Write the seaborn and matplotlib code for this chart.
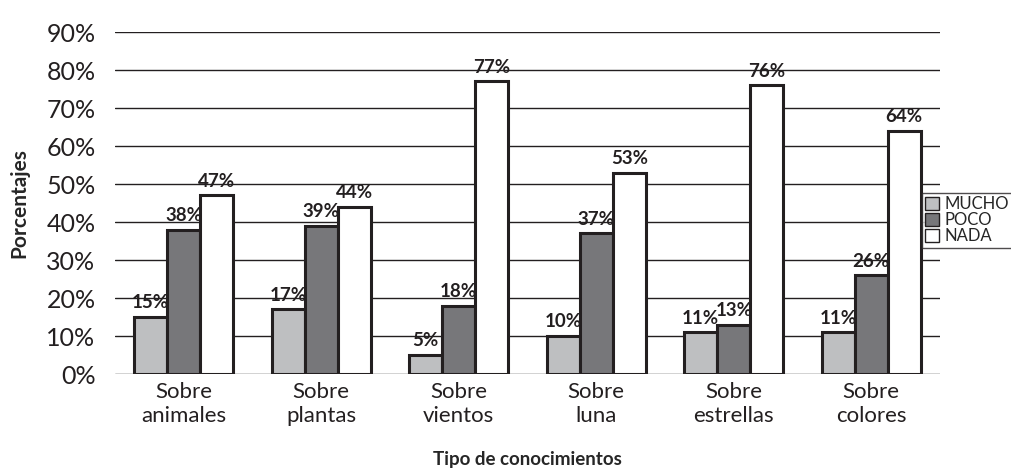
import matplotlib
matplotlib.use("Agg")
import matplotlib.pyplot as plt
import matplotlib.ticker as tkr
import pandas as pd
import seaborn as sns

categories = ["Sobre\nanimales", "Sobre\nplantas", "Sobre\nvientos", "Sobre\nluna", "Sobre\nestrellas", "Sobre\ncolores"]
series = ["MUCHO", "POCO", "NADA"]
mucho = [15, 17, 5, 10, 11, 11]
poco = [38, 39, 18, 37, 13, 26]
nada = [47, 44, 77, 53, 76, 64]
colors = ["#bebfc1", "#76777a", "#ffffff"]

df = pd.DataFrame({
    "Tipo": categories * 3,
    "Nivel": [s for s in series for _ in categories],
    "Valor": mucho + poco + nada,
})

sns.set_style("white")
plt.rcParams['font.family'] = ['Lato', 'DejaVu Sans']

fig = plt.figure(figsize=(10.12, 4.73), dpi=100)
ax = fig.add_axes([115 / 1012, 1 - 374 / 473, 825 / 1012, 342 / 473])

sns.barplot(data=df, x="Tipo", y="Valor", hue="Nivel", palette=colors, width=0.72,
            edgecolor="#231f20", linewidth=2.2, ax=ax, legend=True, zorder=3)

ax.set_ylim(0, 90)
ax.set_yticks(range(0, 91, 10))
ax.yaxis.set_major_formatter(tkr.FuncFormatter(lambda y, p: "{:.0f}%".format(y)))
ax.yaxis.grid(True, color="#231f20", linewidth=1.0, zorder=0)
ax.set_axisbelow(True)
for s in ax.spines.values():
    s.set_visible(False)
ax.tick_params(axis="y", labelsize=18, length=0, pad=14, colors="#231f20")
ax.tick_params(axis="x", labelsize=16, length=0, pad=6, colors="#231f20")

for c in ax.containers:
    ax.bar_label(c, labels=["{:.0f}%".format(v) for v in c.datavalues], padding=4,
                 fontsize=13.5, fontweight="bold", color="#231f20")

ax.set_xlabel("Tipo de conocimientos", fontsize=13.5, fontweight="bold", labelpad=18)
ax.set_ylabel("Porcentajes", fontsize=15, fontweight="bold", labelpad=12)

leg = ax.legend(loc="upper left", bbox_to_anchor=(922 / 1012, 1 - 193 / 473),
                bbox_transform=fig.transFigure, frameon=True, fontsize=12,
                handlelength=0.85, handleheight=0.85, handletextpad=0.3,
                borderpad=0.2, labelspacing=0.0, fancybox=False, borderaxespad=0)
leg.get_frame().set_edgecolor("#231f20")
leg.get_frame().set_linewidth(1)
for h in leg.legend_handles:
    h.set_edgecolor("#231f20")
    h.set_linewidth(1)

fig.savefig("out.png", dpi=100)
